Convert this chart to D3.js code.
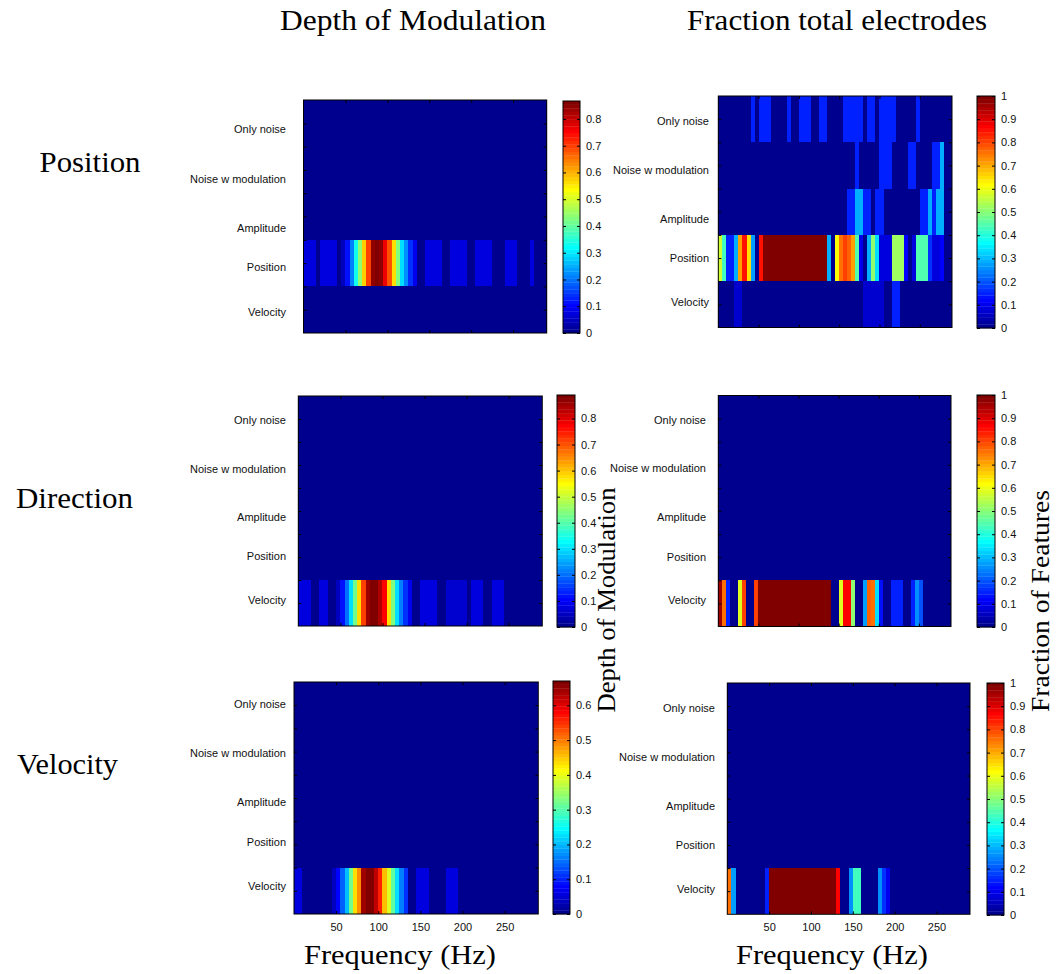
<!DOCTYPE html>
<html><head><meta charset="utf-8">
<script src="https://cdn.jsdelivr.net/npm/d3@7"></script>
<style>body{margin:0;background:#fff}svg{display:block}</style>
</head><body>
<svg id="c" width="1056" height="974"></svg>
<script>
// ---------------- DATA ----------------
const rowNames = ["Only noise","Noise w modulation","Amplitude","Position","Velocity"];
// 58 frequency bins (centres, Hz), 5 Hz wide
const freqs = [2.5,7.5,12.5,17.5,22.5,27.5,32.5,37.5,42.5,47.5,52.5,57.5,62.5,67.5,72.5,77.5,82.5,87.5,92.5,97.5,
  102.5,107.5,112.5,117.5,122.5,127.5,132.5,137.5,142.5,147.5,152.5,157.5,162.5,167.5,172.5,177.5,182.5,187.5,192.5,197.5,
  202.5,207.5,212.5,217.5,222.5,227.5,232.5,237.5,242.5,247.5,252.5,257.5,262.5,267.5,272.5,277.5,282.5,287.5];
const xTicks = [50,100,150,200,250];
const depthTicksA = [0,0.1,0.2,0.3,0.4,0.5,0.6,0.7,0.8];
const depthTicksB = [0,0.1,0.2,0.3,0.4,0.5,0.6];
const fracTicks = [0,0.1,0.2,0.3,0.4,0.5,0.6,0.7,0.8,0.9,1];
const colTitles = ["Depth of Modulation","Fraction total electrodes"];
const rowTitles = ["Position","Direction","Velocity"];

// runs per row: [firstBin, lastBin, value]; unlisted bins are 0
const depthPosition = [[],[],[],
  [[0,2,.07],[4,7,.07],[9,9,.045],[10,10,.115],[11,11,.21],[12,12,.33],[13,13,.44],[14,14,.575],[15,15,.70],
   [16,16,.85],[17,17,.865],[18,18,.85],[19,19,.76],[20,20,.68],[21,21,.565],[22,22,.43],[23,23,.29],[24,24,.22],
   [25,25,.14],[26,26,.09],[29,32,.07],[35,38,.07],[41,44,.07],[48,50,.07],[54,54,.07]],
  []];
const depthDirection = [[],[],[],[],
  [[0,2,.07],[5,6,.07],[9,9,.045],[10,10,.12],[11,11,.2],[12,12,.30],[13,13,.43],[14,14,.58],[15,15,.71],
   [16,16,.85],[17,17,.88],[18,18,.88],[19,19,.84],[20,20,.77],[21,21,.58],[22,22,.44],[23,23,.30],[24,24,.22],
   [25,25,.15],[26,26,.09],[29,32,.07],[35,39,.065],[41,43,.07],[46,48,.07]]];
const depthVelocity = [[],[],[],[],
  [[0,1,.053],[9,9,.036],[10,10,.083],[11,11,.143],[12,12,.2],[13,13,.32],[14,14,.43],[15,15,.49],[16,16,.64],
   [17,18,.66],[19,19,.62],[20,20,.555],[21,21,.455],[22,22,.39],[23,23,.31],[24,24,.22],[25,25,.16],[26,26,.108],
   [29,31,.053],[36,38,.053]]];
const fracPosition = [
  [[8,8,.143],[10,12,.143],[17,17,.143],[20,22,.143],[25,26,.143],[31,35,.143],[37,38,.143],[40,43,.143],[49,49,.143]],
  [[34,34,.143],[40,42,.143],[47,48,.143],[53,54,.143],[55,55,.286]],
  [[32,33,.143],[34,35,.286],[36,37,.143],[39,40,.143],[50,51,.143],[52,52,.286],[53,53,.143],[54,55,.286]],
  [[0,0,.571],[1,1,.429],[2,3,.143],[4,4,.286],[5,5,.714],[6,6,.857],[7,7,.643],[8,8,.27],[10,10,.857],[11,26,1],
   [27,27,.286],[29,29,.62],[30,30,.75],[31,31,.8],[32,32,.78],[33,33,.71],[34,34,.45],[35,35,.1],[37,37,.286],
   [38,38,.5],[39,39,.33],[40,42,.08],[43,45,.52],[46,46,.12],[48,48,.08],[49,51,.44],[52,52,.17],[53,54,.08],[55,55,.11]],
  [[4,5,.07],[36,40,.07],[43,44,.143]]];
const fracDirection = [[],[],[],[],
  [[0,0,.96],[1,1,.75],[2,2,.143],[5,5,.58],[6,6,.8],[9,9,.8],[10,27,1],[30,30,.58],[31,32,.87],[33,33,.5],
   [36,36,.28],[37,37,.78],[38,38,.76],[39,39,.33],[40,40,.13],[43,45,.143],[48,48,.143],[49,49,.25],[50,50,.19]]];
const fracVelocity = [[],[],[],[],
  [[0,0,.75],[1,1,.28],[9,9,.143],[10,25,1],[26,26,.87],[29,29,.25],[30,31,.43],[36,36,.25],[37,37,.17],[38,38,.1]]];

// ---------------- LAYOUT ----------------
const panels = [
  {data:depthPosition,  cmax:0.867, box:[303.5,100,546.7,333], cbar:[563,101,580,333], ticks:depthTicksA, labelX:286, labelDy:5, xLab:false},
  {data:fracPosition,   cmax:1,     box:[718.3,96,952,327.5],  cbar:[977,96,995,328],  ticks:fracTicks,   labelX:709, labelDy:1, xLab:false},
  {data:depthDirection, cmax:0.89,  box:[298.3,396,542.3,626], cbar:[557,395,575,627], ticks:depthTicksA, labelX:286, labelDy:0, xLab:false},
  {data:fracDirection,  cmax:1,     box:[718.3,395.5,951,626.5], cbar:[977,395,995,627], ticks:fracTicks, labelX:706, labelDy:0, xLab:false},
  {data:depthVelocity,  cmax:0.67,  box:[294,682,538.3,914],   cbar:[553,681,570,914], ticks:depthTicksB, labelX:286, labelDy:-2, xLab:true},
  {data:fracVelocity,   cmax:1,     box:[727.3,683,970,914.3], cbar:[987,683,1004,915], ticks:fracTicks,  labelX:715, labelDy:1, xLab:true}
];
const labelFrac = [0.105,0.316,0.528,0.697,0.887];

// MATLAB jet(64)
function jet(m){
  const n=Math.ceil(m/4), u=[];
  for(let j=1;j<=n;j++)u.push(j/n);
  for(let j=0;j<n-1;j++)u.push(1);
  for(let j=n;j>=1;j--)u.push(j/n);
  const g0=Math.ceil(n/2)-(m%4===1?1:0);
  const J=Array.from({length:m},()=>[0,0,0]);
  u.forEach((v,k)=>{const gi=g0+k,ri=gi+n,bi=gi-n;
    if(gi>=0&&gi<m)J[gi][1]=v; if(ri>=0&&ri<m)J[ri][0]=v; if(bi>=0&&bi<m)J[bi][2]=v;});
  return J.map(c=>d3.rgb(c[0]*255,c[1]*255,c[2]*255).formatHex());
}
const jetColors = jet(64);

const svg = d3.select("#c");
const sans = "'Liberation Sans', Arial, Helvetica, sans-serif";
const serif = "'Liberation Serif', 'Times New Roman', serif";

function expand(runs){
  const vals = freqs.map(()=>0);
  runs.forEach(([a,b,v])=>{for(let i=a;i<=b;i++)vals[i]=v;});
  return vals;
}

panels.forEach(p=>{
  const [x0,y0,x1,y1]=p.box;
  const xs=d3.scaleLinear().domain([0,290]).range([x0,x1]);
  const ys=d3.scaleBand().domain(rowNames).range([y0,y1]);
  const col=d3.scaleQuantize().domain([0,p.cmax]).range(jetColors);
  const g=svg.append("g");
  const cells=[];
  rowNames.forEach((r,ri)=>{expand(p.data[ri]).forEach((v,fi)=>cells.push({r,f:freqs[fi],v}));});
  g.selectAll("rect.cell").data(cells).join("rect")
    .attr("x",d=>xs(d.f-2.5)).attr("width",d=>xs(d.f+2.5)-xs(d.f-2.5))
    .attr("y",d=>ys(d.r)).attr("height",ys.bandwidth())
    .attr("fill",d=>col(d.v)).attr("shape-rendering","crispEdges");
  // ticks
  const tk=g=>{g.select(".domain").remove();g.selectAll("line").attr("stroke","#000");
    g.selectAll("text").attr("font-family",sans).attr("font-size",11).attr("fill","#111");};
  g.append("g").attr("transform",`translate(0,${y1})`)
    .call(d3.axisBottom(xs).tickValues(xTicks).tickSize(-3).tickPadding(9).tickFormat(p.xLab?d3.format("d"):""))
    .call(tk);
  g.append("g").attr("transform",`translate(0,${y0})`)
    .call(d3.axisTop(xs).tickValues(xTicks).tickSize(-3).tickFormat("")).call(tk);
  const yl=d3.scaleLinear().domain([0.5,5.5]).range([y0,y1]);
  const yv=[1,1.5,2,2.5,3,3.5,4,4.5,5];
  g.append("g").attr("transform",`translate(${x0},0)`).call(d3.axisLeft(yl).tickValues(yv).tickSize(-3).tickFormat("")).call(tk);
  g.append("g").attr("transform",`translate(${x1},0)`).call(d3.axisRight(yl).tickValues(yv).tickSize(-3).tickFormat("")).call(tk);
  g.append("rect").attr("x",x0).attr("y",y0).attr("width",x1-x0).attr("height",y1-y0)
    .attr("fill","none").attr("stroke","#000").attr("stroke-width",1);
  // row labels
  g.selectAll("text.rl").data(rowNames).join("text").attr("class","rl")
    .attr("x",p.labelX).attr("y",(d,i)=>y0+labelFrac[i]*(y1-y0)+p.labelDy)
    .attr("text-anchor","end").attr("dominant-baseline","central")
    .attr("font-family",sans).attr("font-size",11).attr("fill","#111").text(d=>d);
  // colorbar
  const [cx0,cy0,cx1,cy1]=p.cbar;
  const cy=d3.scaleLinear().domain([0,p.cmax]).range([cy1,cy0]);
  const step=p.cmax/jetColors.length;
  g.selectAll("rect.cb").data(jetColors).join("rect")
    .attr("x",cx0).attr("width",cx1-cx0)
    .attr("y",(c,i)=>cy((i+1)*step)).attr("height",(c,i)=>cy(i*step)-cy((i+1)*step)+0.3)
    .attr("fill",c=>c);
  g.append("g").attr("transform",`translate(${cx1},0)`)
    .call(d3.axisRight(cy).tickValues(p.ticks).tickSize(-3).tickPadding(6).tickFormat(d=>d===0?"0":(d===1?"1":d3.format(".1f")(d))))
    .call(tk);
  g.append("g").attr("transform",`translate(${cx0},0)`)
    .call(d3.axisLeft(cy).tickValues(p.ticks).tickSize(-3).tickFormat("")).call(tk);
  g.append("rect").attr("x",cx0).attr("y",cy0).attr("width",cx1-cx0).attr("height",cy1-cy0)
    .attr("fill","none").attr("stroke","#000").attr("stroke-width",1);
});

// serif texts
function big(t,x,y,size,len,rot){
  const el=svg.append("text").attr("font-family",serif).attr("font-size",size).attr("fill","#000")
    .attr("text-anchor","middle").attr("textLength",len).attr("lengthAdjust","spacingAndGlyphs").text(t);
  if(rot) el.attr("transform",`translate(${x},${y}) rotate(-90)`);
  else el.attr("x",x).attr("y",y);
}
big(colTitles[0],413,30,29,266);
big(colTitles[1],837,30,29,300);
big(rowTitles[0],90,172,29,101);
big(rowTitles[1],74.5,508,29,117);
big(rowTitles[2],67.5,774,29,101);
big("Frequency (Hz)",400,964,27,192);
big("Frequency (Hz)",832,964,27,192);
big("Depth of Modulation",615,600,26,225,true);
big("Fraction of Features",1049,601,26,222,true);
</script>
</body></html>
